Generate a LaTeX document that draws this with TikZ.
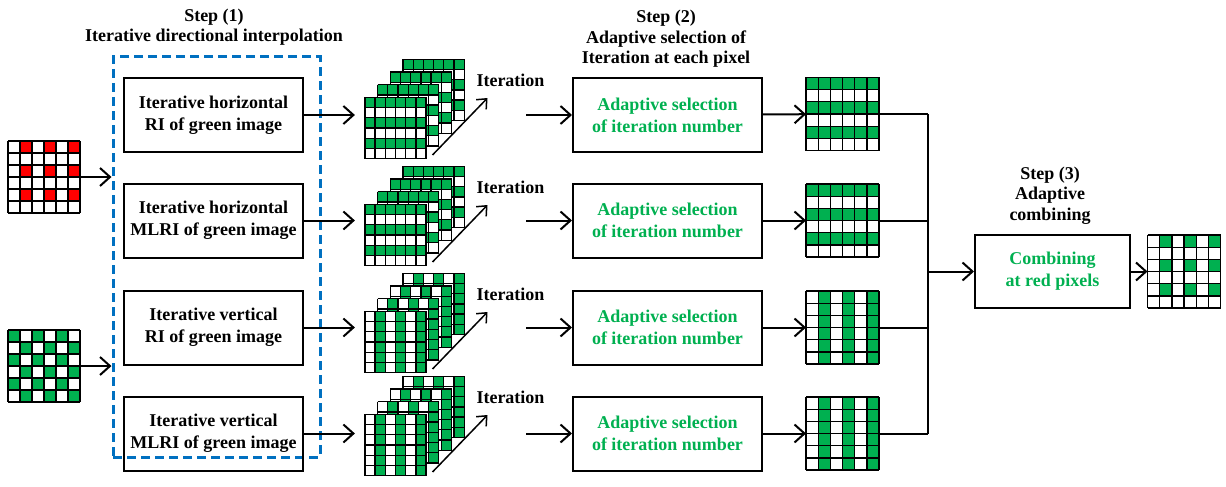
\documentclass[tikz,border=0pt]{standalone}
\usepackage{fontspec}
\setmainfont{Liberation Serif}
\usetikzlibrary{arrows.meta}
\definecolor{pixgreen}{RGB}{0,176,80}
\definecolor{pixred}{RGB}{255,0,0}
\definecolor{dashblue}{RGB}{0,112,192}

% cells of a 6x6 pixel grid drawn over node #1 (cell size #2, colour #3, fill test #4)
\newcommand{\pixcells}[4]{%
  \begin{scope}[shift={(#1.north west)}]
    \foreach \r in {0,...,5}{\foreach \c in {0,...,5}{%
      \pgfmathtruncatemacro\on{#4}%
      \ifnum\on=1 \fill[#3] (\c*#2,\r*#2) rectangle ++(#2,#2);\fi}}
    \foreach \i in {0,...,6}{%
      \draw[cellline] (\i*#2,0) -- (\i*#2,6*#2);
      \draw[cellline] (0,\i*#2) -- (6*#2,\i*#2);}
  \end{scope}}
% four grids one behind the other, front one named #1-0
\newcommand{\pixstack}[4]{%
  \foreach \k in {3,2,1,0}{%
    \node[pixnode=61.2pt] (#1-\k) at ([shift={(\k*12.7,-\k*12.7)}]#2) {};
    \pixcells{#1-\k}{10.2}{#3}{#4}}}

\begin{document}
\begin{tikzpicture}[x=1pt,y=-1pt,
  font=\fontsize{18}{22}\selectfont\bfseries,
  box/.style={draw,line width=2pt,minimum width=179pt,minimum height=74pt,align=center,inner sep=0pt},
  gbox/.style={box,minimum width=189pt,text=pixgreen},
  arr/.style={line width=2pt,-{Straight Barb[length=10pt,width=18pt]}},
  iter/.style={line width=1.5pt,-{Straight Barb[length=8pt,width=14pt]}},
  link/.style={line width=2pt},
  cellline/.style={line width=1.3pt},
  pixnode/.style={fill=white,minimum size=#1,inner sep=0pt,outer sep=0pt},
  title/.style={align=center,font=\fontsize{18}{20.5}\selectfont\bfseries}]
\useasboundingbox (0,0) rectangle (1226,487);

% titles
\node[title] (t1) at (214,27) {Step (1)\\Iterative directional interpolation};
\node[title] (t2) at (666,39) {Step (2)\\Adaptive selection of\\Iteration at each pixel};
\node[title] (t3) at (1050,195.5) {Step (3)\\Adaptive\\combining};

% input CFA images
\node[pixnode=72pt] (in1) at (44,177) {};
\pixcells{in1}{12}{pixred}{mod(\r,2)==0 && mod(\c,2)==1}
\node[pixnode=72pt] (in2) at (44,366) {};
\pixcells{in2}{12}{pixgreen}{mod(\r+\c,2)==0}

% step 1
\node[draw=dashblue,dash pattern=on 9pt off 5pt,line width=3pt,minimum width=207pt,minimum height=400pt] (dash) at (216.5,257) {};
\node[box] (b1) at (213.5,115) {Iterative horizontal\\RI of green image};
\node[box] (b2) at (213.5,220.5) {Iterative horizontal\\MLRI of green image};
\node[box] (b3) at (213.5,327.5) {Iterative vertical\\RI of green image};
\node[box] (b4) at (213.5,433.5) {Iterative vertical\\MLRI of green image};
\draw[arr] (in1) -- (in1 -| dash.west);
\draw[arr] (in2) -- (in2 -| dash.west);

% iterations
\pixstack{s1}{395.5,128}{pixgreen}{mod(\r,2)==0}
\pixstack{s2}{395.5,235}{pixgreen}{mod(\r,2)==0}
\pixstack{s3}{395.5,342}{pixgreen}{mod(\c,2)==1}
\pixstack{s4}{395.5,445}{pixgreen}{mod(\c,2)==1}

% step 2
\node[gbox] (a1) at (667.5,115) {Adaptive selection\\of iteration number};
\node[gbox] (a2) at (667.5,220.5) {Adaptive selection\\of iteration number};
\node[gbox] (a3) at (667.5,327.5) {Adaptive selection\\of iteration number};
\node[gbox] (a4) at (667.5,433.5) {Adaptive selection\\of iteration number};

\node[pixnode=73pt] (r1) at (842.5,114) {};
\pixcells{r1}{12.17}{pixgreen}{mod(\r,2)==0}
\node[pixnode=73pt] (r2) at (842.5,220.5) {};
\pixcells{r2}{12.17}{pixgreen}{mod(\r,2)==0}
\node[pixnode=73pt] (r3) at (842.5,327.5) {};
\pixcells{r3}{12.17}{pixgreen}{mod(\c,2)==1}
\node[pixnode=73pt] (r4) at (842.5,433.5) {};
\pixcells{r4}{12.17}{pixgreen}{mod(\c,2)==1}

\foreach \i in {1,...,4}{
  \draw[arr] (b\i) -- ([xshift=-10pt]s\i-0.west |- b\i);
  \draw[iter] ([shift={(37,27)}]s\i-0.center) -- ([shift={(92,-30)}]s\i-0.center);
  \node (it\i) at ([shift={(115,-48)}]s\i-0.center) {Iteration};
  \draw[arr] ([xshift=-46pt]a\i.west) -- (a\i);
  \draw[arr] (a\i) -- (r\i);
}

% step 3
\coordinate (j) at (928,271.5);
\node[box,minimum width=155pt,minimum height=73pt,text=pixgreen] (c3) at (1052.5,271.5) {Combining\\at red pixels};
\node[pixnode=73pt] (out) at (1184,271.5) {};
\pixcells{out}{12.17}{pixgreen}{mod(\r,2)==0 && mod(\c,2)==1}
\foreach \i in {1,...,4}
  \draw[link] (r\i) -- (r\i -| j);
\draw[link] (r1 -| j) -- (r4 -| j);
\draw[arr] (j) -- (c3);
\draw[arr] (c3) -- (out);
\end{tikzpicture}
\end{document}
